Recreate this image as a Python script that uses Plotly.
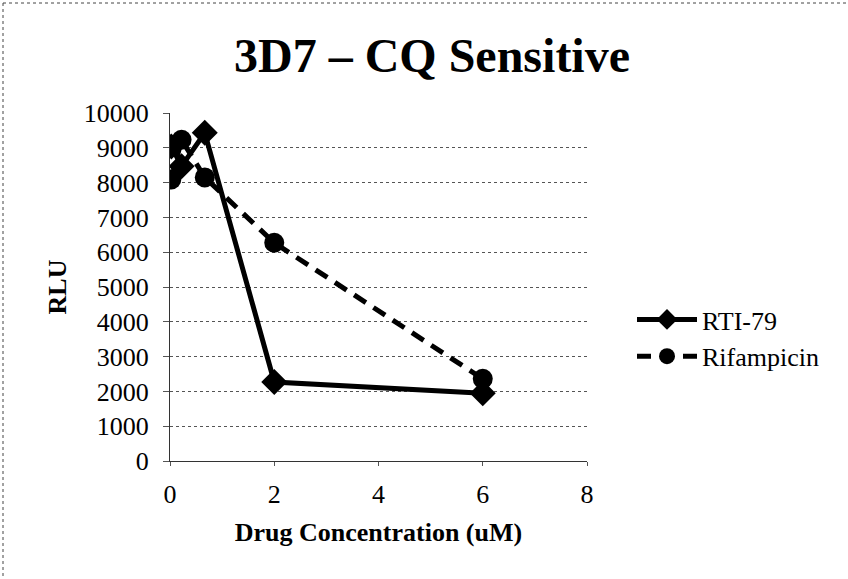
import plotly.graph_objects as go

conc = [0.025, 0.222, 0.667, 2, 6]
rti79 = [9040, 8470, 9430, 2270, 1950]
rifampicin = [8090, 9230, 8150, 6270, 2360]

x_ticks = [0, 2, 4, 6, 8]
y_ticks = [0, 1000, 2000, 3000, 4000, 5000, 6000, 7000, 8000, 9000, 10000]

FONT = "Liberation Serif"
W, H = 848, 579
L, T = 170, 113
pw, ph = 417, 348
R, B = W - L - pw, H - T - ph

fig = go.Figure()
fig.add_trace(go.Scatter(
    x=conc, y=rti79, name="RTI-79", mode="lines+markers",
    line=dict(color="black", width=5),
    marker=dict(symbol="diamond", size=20, color="black"),
))
fig.add_trace(go.Scatter(
    x=conc, y=rifampicin, name="Rifampicin", mode="lines+markers",
    line=dict(color="black", width=5, dash="14px,9px"),
    marker=dict(symbol="circle", size=20, color="black"),
))

def px_x(p):
    return (p - L) / pw
def px_y(p):
    return (T + ph - p) / ph

# outer dotted frame (top and left edges)
fig.add_shape(type="line", xref="paper", yref="paper",
              x0=px_x(3), x1=px_x(860), y0=px_y(3), y1=px_y(3),
              line=dict(color="#444", width=1, dash="dot"))
fig.add_shape(type="line", xref="paper", yref="paper",
              x0=px_x(3), x1=px_x(3), y0=px_y(3), y1=px_y(600),
              line=dict(color="#444", width=1, dash="dot"))

fig.update_layout(
    width=W, height=H,
    margin=dict(l=L, r=R, t=T, b=B, autoexpand=False),
    paper_bgcolor="white", plot_bgcolor="white",
    font=dict(family=FONT, color="black", size=26),
    title=dict(text="<b>3D7 – CQ Sensitive</b>", x=432 / W, xanchor="center",
               xref="container", yref="container", y=1 - 55 / H, yanchor="middle",
               font=dict(family=FONT, size=48, color="black")),
    showlegend=True,
    legend=dict(x=px_x(632), y=px_y(296), xanchor="left", yanchor="top",
                font=dict(family=FONT, size=26, color="black"),
                bgcolor="rgba(0,0,0,0)", tracegroupgap=4, itemwidth=60),
    xaxis=dict(
        range=[0, 8], tickvals=x_ticks, ticktext=[str(v) for v in x_ticks],
        showgrid=False, zeroline=False, automargin=False,
        showline=True, linecolor="#333", linewidth=1,
        ticks="outside", ticklen=4, tickcolor="#555", ticklabelstandoff=6,
        tickfont=dict(family=FONT, size=26, color="black"),
        title=dict(text="<b>Drug Concentration (uM)</b>",
                   font=dict(family=FONT, size=26, color="black"), standoff=14),
    ),
    yaxis=dict(
        range=[0, 10000], tickvals=y_ticks, ticktext=[str(v) for v in y_ticks],
        showgrid=True, gridcolor="#555", gridwidth=1, griddash="dot",
        zeroline=False, showline=True, linecolor="#333", linewidth=1,
        automargin=False,
        ticks="outside", ticklen=6, tickcolor="#555", ticklabelstandoff=9,
        tickfont=dict(family=FONT, size=26, color="black"),
        title=dict(text="<b>RLU</b>", font=dict(family=FONT, size=26, color="black"),
                   standoff=9),
    ),
)

fig.write_html("out.html", config={"displayModeBar": False},
               post_script="document.body.style.margin='0';document.body.style.overflow='hidden';")
